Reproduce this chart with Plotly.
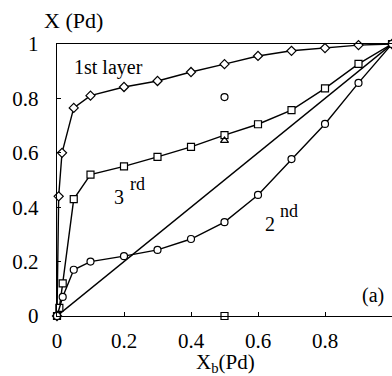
import plotly.graph_objects as go

# Bulk Pd fraction and layer-resolved Pd fraction
x_first = [0, 0.005, 0.015, 0.05, 0.1, 0.2, 0.3, 0.4, 0.5, 0.6, 0.7, 0.8, 0.9, 1.0]
y_first = [0, 0.44, 0.60, 0.765, 0.81, 0.842, 0.864, 0.897, 0.926, 0.956, 0.975, 0.985, 0.996, 1.0]

x_second = [0, 0.017, 0.05, 0.1, 0.2, 0.3, 0.4, 0.5, 0.6, 0.7, 0.8, 0.9, 1.0]
y_second = [0, 0.07, 0.17, 0.20, 0.22, 0.243, 0.283, 0.345, 0.445, 0.577, 0.706, 0.857, 1.0]

x_third = [0, 0.007, 0.017, 0.05, 0.1, 0.2, 0.3, 0.4, 0.5, 0.6, 0.7, 0.8, 0.9, 1.0]
y_third = [0, 0.03, 0.12, 0.43, 0.52, 0.55, 0.585, 0.622, 0.665, 0.705, 0.757, 0.837, 0.927, 1.0]

x_diag = [0, 1]
y_diag = [0, 1]

# Single reference points at X_b = 0.5
x_circ_pt, y_circ_pt = [0.5], [0.805]
x_tri_pt, y_tri_pt = [0.5], [0.645]
x_sq_pt, y_sq_pt = [0.5], [0.0]

tick_vals = [0, 0.2, 0.4, 0.6, 0.8, 1]
tick_text = ["0", "0.2", "0.4", "0.6", "0.8", "1"]

FONT = "Times New Roman, Liberation Serif, serif"
LINE = dict(color="black", width=1.4)


def marker(symbol, size):
    return dict(symbol=symbol, size=size, color="white",
                line=dict(color="black", width=1.2))


fig = go.Figure()
fig.add_trace(go.Scatter(x=x_diag, y=y_diag, mode="lines", line=LINE))
fig.add_trace(go.Scatter(x=x_first, y=y_first, mode="lines+markers",
                         line=LINE, marker=marker("diamond", 7)))
fig.add_trace(go.Scatter(x=x_third, y=y_third, mode="lines+markers",
                         line=LINE, marker=marker("square", 7)))
fig.add_trace(go.Scatter(x=x_second, y=y_second, mode="lines+markers",
                         line=LINE, marker=marker("circle", 7)))
fig.add_trace(go.Scatter(x=x_circ_pt, y=y_circ_pt, mode="markers",
                         marker=marker("circle", 7)))
fig.add_trace(go.Scatter(x=x_tri_pt, y=y_tri_pt, mode="markers",
                         marker=marker("triangle-up", 7)))
fig.add_trace(go.Scatter(x=x_sq_pt, y=y_sq_pt, mode="markers",
                         marker=marker("square", 7)))
for tr in fig.data:
    tr.cliponaxis = False

axis_common = dict(
    range=[0, 1], tickvals=tick_vals, ticktext=tick_text,
    ticks="inside", ticklen=4, tickcolor="black", tickwidth=1,
    showline=True, linecolor="black", linewidth=1.4,
    showgrid=False, zeroline=False,
    tickfont=dict(family=FONT, size=21, color="black"),
)

fig.update_xaxes(**axis_common, mirror=True, ticklabelstandoff=6)
fig.update_yaxes(**axis_common, ticklabelstandoff=13)


def label(text, x, y, size):
    fig.add_annotation(text=text, x=x, y=y, xref="paper", yref="paper",
                       showarrow=False, xanchor="center", yanchor="middle",
                       font=dict(family=FONT, size=size, color="black"))


W, H = 392, 376


def px(x, y):
    # pixel position -> paper coordinates of the plot area
    return (x - 57) / (W - 57), (316 - y) / (316 - 44)


for text, (xx, yy), size in [
    ("X (Pd)", (73, 20), 22),
    ("1st layer", (108, 67), 20),
    ("3", (119, 197), 20),
    ("rd", (137, 184), 18),
    ("2", (270, 224), 20),
    ("nd", (289, 211), 18),
    ("(a)", (373, 295), 20),
    ("X<sub>b</sub>(Pd)", (225, 363), 21),
]:
    x0, y0 = px(xx, yy)
    label(text, x0, y0, size)

fig.update_layout(
    width=W, height=H,
    margin=dict(l=57, r=0, t=44, b=60),
    paper_bgcolor="white", plot_bgcolor="white",
    showlegend=False,
)

fig.write_html("out.html")
